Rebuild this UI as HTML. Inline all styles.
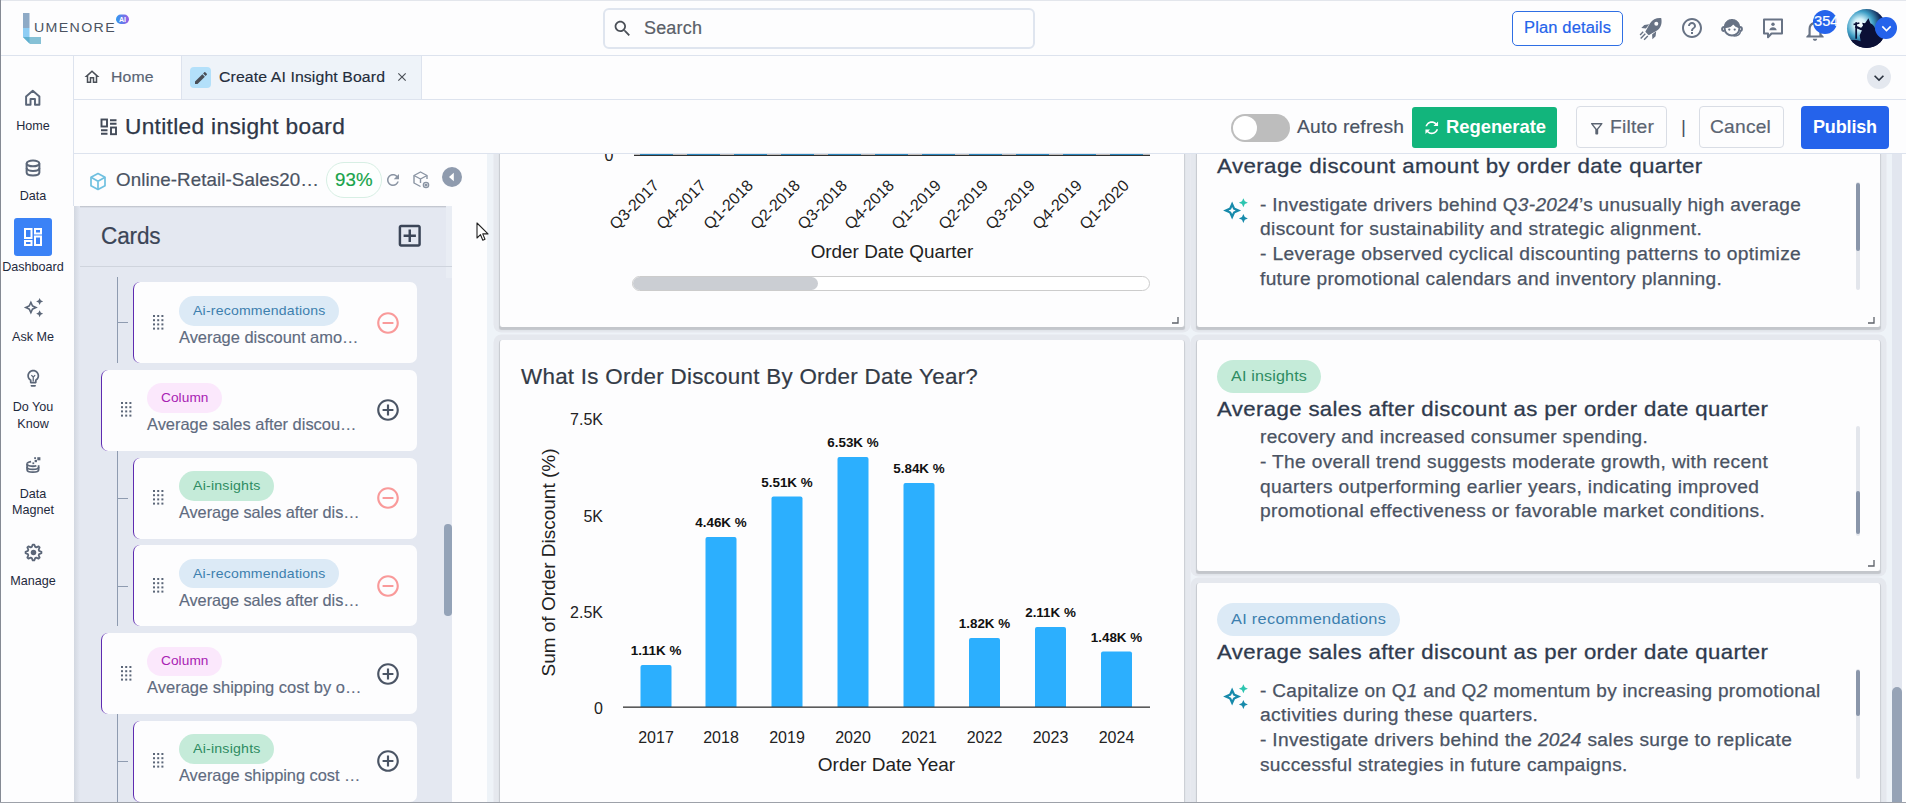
<!DOCTYPE html>
<html lang="en"><head><meta charset="utf-8"><title>Lumenore - Create AI Insight Board</title>
<style>
*{box-sizing:border-box;margin:0;padding:0}
html,body{width:1906px;height:803px;overflow:hidden;background:#fdfdfe}
body{position:relative;font-family:"Liberation Sans",sans-serif;color:#3b4557;-webkit-font-smoothing:antialiased}
.a{position:absolute}
.t{position:absolute;white-space:nowrap;line-height:1}
svg{position:absolute;overflow:visible}
.card{position:absolute;background:#fdfdfe;border-radius:6px 6px 6px 6px}
.lcard{position:absolute;background:#fdfdfe;border-radius:7px;border-left:1.3px solid #5e2bb0}
.pill{position:absolute;border-radius:15px;font-size:13.5px;line-height:1;white-space:nowrap}
.wc{position:absolute;background:#fdfdfe;border-left:1px solid #c9ccd2;border-right:1px solid #cdd0d6;border-radius:3px;box-shadow:0 3px 1px -0.5px #c3c6cb,0 0 0 5.500px #e5e8ee}
</style></head>
<body>
<div class="a" style="left:0;top:0;width:1906px;height:1px;background:#e3e6ec"></div>
<div class="a" style="left:0;top:0;width:1px;height:803px;background:#858a94;z-index:50"></div>
<div class="a" style="left:0;top:802px;width:1906px;height:1px;background:#9da1a9;z-index:50"></div>
<div class="a" style="left:1px;top:55px;width:1905px;height:1px;background:#dde3ee"></div>
<div class="a" style="left:73px;top:56px;width:1px;height:150px;background:#dde3ee"></div>
<div class="a" style="left:74px;top:99px;width:1832px;height:1px;background:#dde3ee"></div>
<div class="a" style="left:74px;top:153px;width:1832px;height:1px;background:#dde3ee"></div>
<svg style="left:22px;top:12px" width="110" height="34" viewBox="0 0 110 34" role="img" aria-label="Lumenore AI">
<defs><linearGradient id="aig" x1="0" y1="0" x2="1" y2="0"><stop offset="0" stop-color="#2f9bf0"/><stop offset="1" stop-color="#9b5de5"/></linearGradient></defs>
<rect x="1" y="1" width="6.5" height="15" fill="#8eaac6"/>
<rect x="1" y="16" width="6.5" height="9" fill="#8ecdf4"/>
<polygon points="1,25 19,25 19,32 8,32" fill="#86c1d6"/><polygon points="1,25 7.500,25 7.500,31.500" fill="#5fb0d0"/>
<rect x="94" y="2.500" width="13" height="9.500" rx="4.750" fill="url(#aig)"/>
<text x="100.500" y="9.800" font-size="7" font-weight="700" fill="#fff" text-anchor="middle" font-family="Liberation Sans, sans-serif">AI</text>
<text x="12" y="20.200" font-size="12.500" fill="#4a5260" font-family="Liberation Sans, sans-serif" letter-spacing="1.200" textLength="82" lengthAdjust="spacingAndGlyphs">UMENORE</text>
</svg>
<div class="a" style="left:603px;top:8px;width:432px;height:41px;border:2px solid #dfe5ef;border-radius:6px;background:#fdfdfe"></div>
<svg style="left:612.00px;top:17.50px" width="21" height="21" viewBox="0 0 24 24" fill="#4a4f57" ><path d="M15.5 14h-.79l-.28-.27C15.41 12.59 16 11.11 16 9.5 16 5.91 13.09 3 9.5 3S3 5.91 3 9.5 5.91 16 9.5 16c1.61 0 3.09-.59 4.23-1.57l.27.28v.79l5 4.99L20.49 19l-4.99-5zm-6 0C7.01 14 5 11.99 5 9.5S7.01 5 9.5 5 14 7.01 14 9.5 11.99 14 9.5 14z"/></svg>
<div class="t" style="left:644px;top:20.05px;font-size:17.5px;color:#5a5f68;font-weight:400;letter-spacing:0.180px;-webkit-text-stroke:0.2px #5a5f68;transform:scaleX(1.0276);transform-origin:0 50%;">Search</div>
<div class="a" style="left:1512px;top:11px;width:111px;height:35px;border:1px solid #2f6fe4;border-radius:5px;background:#fff"></div>
<div class="t" style="left:1524px;top:20.00px;font-size:16px;color:#2563eb;font-weight:400;letter-spacing:0.144px;-webkit-text-stroke:0.2px #2563eb;transform:scaleX(1.0310);transform-origin:0 50%;">Plan details</div>
<svg style="left:1638px;top:16px" width="26" height="26" viewBox="0 0 26 26" fill="#687385">
<path d="M23.300 2.200c-4.600-.5-8.600 1.300-11.400 5.300L7.300 15.800l3.400 3.400 8.300-4.600c4-2.800 5.200-7.300 4.300-12.400zM18.300 9.700a2 2 0 1 1 0-4 2 2 0 0 1 0 4z"/>
<path d="M11.300 8.300l-5 .6-3 3.200 4.600.3zM18.200 15.200l-.6 5-3.200 3-.3-4.600z"/>
<path d="M6.800 17.300l1 1-4.600 4.600-1-1zM9.300 19.500l1 1-3.700 3.700-1-1zM4.700 15.300l1 1-3.100 3.100-1-1z"/></svg>
<svg style="left:1680.00px;top:16.00px" width="24" height="24" viewBox="0 0 24 24" fill="#687385" ><path d="M11 18h2v-2h-2v2zm1-16C6.48 2 2 6.48 2 12s4.48 10 10 10 10-4.48 10-10S17.52 2 12 2zm0 18c-4.41 0-8-3.59-8-8s3.59-8 8-8 8 3.59 8 8-3.59 8-8 8zm0-14c-2.21 0-4 1.79-4 4h2c0-1.1.9-2 2-2s2 .9 2 2c0 2-3 1.75-3 5h2c0-2.25 3-2.5 3-5 0-2.21-1.79-4-4-4z"/></svg>
<svg style="left:1720px;top:16px" width="24" height="24" viewBox="0 0 24 24" fill="none" stroke="#687385" stroke-width="2">
<path d="M4.600 12.600a7.400 7.400 0 0 1 14.800 0c0 4-3.300 6.900-7.400 6.900s-7.400-2.900-7.400-6.900z"/>
<path d="M4.600 11.500c-.5-5 3-8 7.400-8s7.900 3 7.400 8c-2.500-.2-4.700-1.500-6-3.600-1.500 2.300-4.800 3.700-8.800 3.600z" fill="#687385" stroke-width="1"/>
<path d="M4 11c-1.400 0-2 .9-2 2s.6 2 2 2M20 11c1.400 0 2 .9 2 2s-.6 2-2 2" stroke-width="1.800"/>
<circle cx="9.300" cy="13.600" r="1.150" fill="#687385" stroke="none"/><circle cx="14.700" cy="13.600" r="1.150" fill="#687385" stroke="none"/>
<path d="M20.500 15.500c-.5 3-3 4.600-7 4.600" stroke-width="1.500"/></svg>
<svg style="left:1761px;top:16px" width="24" height="24" viewBox="0 0 24 24" fill="none" stroke="#687385" stroke-width="2">
<path d="M3 3.500h18v14H10.500L7 21.300v-3.800H3z" stroke-linejoin="round"/><circle cx="12" cy="8.300" r="1.700" fill="#687385" stroke="none"/><path d="M8.300 14.200c.3-2.100 1.800-3 3.700-3s3.400.9 3.700 3z" fill="#687385" stroke="none"/></svg>
<svg style="left:1802.00px;top:16.80px" width="26" height="26" viewBox="0 0 24 24" fill="#687385" ><path d="M12 22c1.1 0 2-.9 2-2h-4c0 1.1.9 2 2 2zm6-6v-5c0-3.07-1.63-5.64-4.5-6.32V4c0-.83-.67-1.5-1.5-1.5s-1.5.67-1.5 1.5v.68C7.64 5.36 6 7.92 6 11v5l-2 2v1h16v-1l-2-2zm-2 1H8v-6c0-2.48 1.51-4.5 4-4.5s4 2.02 4 4.5v6z"/></svg>
<div class="a" style="left:1812.700px;top:9.500px;width:24.400px;height:24.400px;border-radius:50%;background:#2563eb"></div>
<div class="t" style="left:1813.5px;top:14.05px;font-size:14.5px;color:#fff;font-weight:400;letter-spacing:0.049px;-webkit-text-stroke:0.2px #fff;transform:scaleX(1.0076);transform-origin:0 50%;">354</div>
<svg style="left:1847px;top:9px" width="39" height="39" viewBox="0 0 40 40">
<defs><radialGradient id="av" cx="0.33" cy="0.40" r="0.68"><stop offset="0" stop-color="#ffffff"/><stop offset="0.22" stop-color="#d4f1f9"/><stop offset="0.5" stop-color="#3f9fc6"/><stop offset="0.85" stop-color="#0d1a4a"/><stop offset="1" stop-color="#0a1038"/></radialGradient>
<clipPath id="avc"><circle cx="20" cy="20" r="20"/></clipPath></defs>
<circle cx="20" cy="20" r="20" fill="url(#av)"/>
<g clip-path="url(#avc)" fill="#0b1036">
<path d="M0 33c6-2 10-1.500 14 0l-1-6 2.500-5.500-2-1 3-3.500-1-3 3 .5 3.500-5 2 5c3 1.500 5 4 5.500 8l5 6 6 12H0z"/>
<path d="M8.500 13.500h1.800v17H8.500zM6.500 15l6-1.500.4 1.600-6 1.500z"/>
<path d="M9 17l7 3-1 2-7-3z"/>
</g></svg>
<div class="a" style="left:1875.400px;top:17.400px;width:21.800px;height:21.800px;border-radius:50%;background:#2563eb"></div>
<svg style="left:1876.80px;top:19.10px" width="19" height="19" viewBox="0 0 24 24" fill="#fff" ><path d="M16.59 8.59L12 13.17 7.41 8.59 6 10l6 6 6-6z"/></svg>
<svg style="left:23.300px;top:88px" width="19.500" height="19.500" viewBox="0 0 22 22" fill="none" stroke="#5b6678" stroke-width="2.200" stroke-linejoin="round"><path d="M3.500 9.500L11 3.200l7.500 6.300V19h-5v-6.500h-5V19h-5z"/></svg>
<div class="t" style="left:1px;width:64px;text-align:center;top:120.00px;font-size:12.6px;color:#1f2a3d;">Home</div>
<svg style="left:23px;top:157.500px" width="20" height="20" viewBox="0 0 22 22" fill="none" stroke="#5b6678" stroke-width="2.200"><ellipse cx="11" cy="6" rx="7" ry="3.200"/><path d="M4 6v10c0 1.800 3.100 3.200 7 3.200s7-1.400 7-3.200V6"/><path d="M4 11c0 1.800 3.100 3.200 7 3.200s7-1.400 7-3.200"/></svg>
<div class="t" style="left:1px;width:64px;text-align:center;top:190.00px;font-size:12.6px;color:#1f2a3d;">Data</div>
<div class="a" style="left:14px;top:218px;width:38px;height:38px;border-radius:3px;background:#3b82f6"></div>
<svg style="left:22px;top:226px" width="22" height="22" viewBox="0 0 22 22" fill="none" stroke="#fff" stroke-width="2"><rect x="3" y="3" width="6.500" height="9"/><rect x="13" y="3" width="6" height="4.500"/><rect x="13" y="10.500" width="6" height="8.500"/><rect x="3" y="15" width="6.500" height="4"/></svg>
<div class="t" style="left:1px;width:64px;text-align:center;top:261.00px;font-size:12.6px;color:#1f2a3d;">Dashboard</div>
<svg style="left:22.500px;top:296.500px" width="21" height="21" viewBox="0 0 24 24" fill="#5b6678"><path d="M19 9l1.250-2.750L23 5l-2.750-1.250L19 1l-1.250 2.750L15 5l2.750 1.250z"/><path d="M11.500 9.500L9 4 6.500 9.500 1 12l5.500 2.500L9 20l2.500-5.500L17 12z M9 8.400l1.150 2.450L12.600 12l-2.450 1.150L9 15.600l-1.150-2.450L5.400 12l2.450-1.150z" fill-rule="evenodd"/><path d="M19 15l-1.250 2.750L15 19l2.750 1.250L19 23l1.250-2.750L23 19l-2.750-1.250z"/></svg>
<div class="t" style="left:1px;width:64px;text-align:center;top:331.00px;font-size:12.6px;color:#1f2a3d;">Ask Me</div>
<svg style="left:22.75px;top:367.75px" width="20.5" height="20.5" viewBox="0 0 24 24" fill="#5b6678" ><path d="M9 21c0 .55.45 1 1 1h4c.55 0 1-.45 1-1v-1H9v1zm3-19C8.14 2 5 5.14 5 9c0 2.38 1.19 4.47 3 5.74V17c0 .55.45 1 1 1h6c.55 0 1-.45 1-1v-2.26c1.81-1.27 3-3.36 3-5.74 0-3.86-3.14-7-7-7zm2.85 11.1l-.85.6V16h-4v-2.3l-.85-.6C7.8 12.16 7 10.63 7 9c0-2.76 2.24-5 5-5s5 2.24 5 5c0 1.63-.8 3.16-2.15 4.1z"/></svg>
<svg style="left:22.750px;top:367.750px" width="20.500" height="20.500" viewBox="0 0 24 24" fill="none" stroke="#5b6678" stroke-width="1.500"><path d="M9.800 8.300l2.200 2.400 2.200-2.400M12 10.700v5"/></svg>
<div class="t" style="left:1px;width:64px;text-align:center;top:400.70px;font-size:12.6px;color:#1f2a3d;">Do You</div>
<div class="t" style="left:1px;width:64px;text-align:center;top:417.50px;font-size:12.6px;color:#1f2a3d;">Know</div>
<svg style="left:23.500px;top:455px" width="19.500" height="19.500" viewBox="0 0 22 22" fill="none" stroke="#5b6678" stroke-width="2"><path d="M3.500 10v6.500c0 1.500 2.900 2.700 6.500 2.700s6.500-1.200 6.500-2.700V11.500"/><path d="M3.500 10c0 1.500 2.900 2.700 6.500 2.700 1.500 0 2.800-.2 4-.6M3.500 13.500c0 1.500 2.900 2.700 6.500 2.700s6.500-1.200 6.500-2.700"/><path d="M3.500 10c0-1.200 1.800-2.200 4.500-2.600"/><rect x="15" y="2.500" width="3.500" height="3.500" fill="#5b6678" stroke="none"/><rect x="12" y="5.500" width="2.600" height="2.600" fill="#5b6678" stroke="none"/><rect x="9.500" y="8.300" width="2" height="2" fill="#5b6678" stroke="none"/><rect x="11.500" y="2.500" width="2" height="2" fill="#5b6678" stroke="none"/></svg>
<div class="t" style="left:1px;width:64px;text-align:center;top:488.00px;font-size:12.6px;color:#1f2a3d;">Data</div>
<div class="t" style="left:1px;width:64px;text-align:center;top:504.00px;font-size:12.6px;color:#1f2a3d;">Magnet</div>
<svg style="left:23.500px;top:542.500px" width="19" height="19" viewBox="0 0 22 22" fill="none" stroke="#5b6678" stroke-width="2.100" stroke-linejoin="round"><polygon points="20.16,10.10 20.16,11.90 17.51,12.97 17.00,14.21 18.11,16.84 16.84,18.11 14.21,17.00 12.97,17.51 11.90,20.16 10.10,20.16 9.03,17.51 7.79,17.00 5.16,18.11 3.89,16.84 5.00,14.21 4.49,12.97 1.84,11.90 1.84,10.10 4.49,9.03 5.00,7.79 3.89,5.16 5.16,3.89 7.79,5.00 9.03,4.49 10.10,1.84 11.90,1.84 12.97,4.49 14.21,5.00 16.84,3.89 18.11,5.16 17.00,7.79 17.51,9.03"/><circle cx="11" cy="11" r="3.200" fill="#5b6678" stroke="none"/></svg>
<div class="t" style="left:1px;width:64px;text-align:center;top:575.00px;font-size:12.6px;color:#1f2a3d;">Manage</div>
<svg style="left:83.00px;top:68.00px" width="18" height="18" viewBox="0 0 24 24" fill="#4a4f57" ><path d="M12 5.69l5 4.5V18h-2v-6H9v6H7v-7.81l5-4.5M12 3L2 12h3v8h6v-6h2v6h6v-8h3L12 3z"/></svg>
<div class="t" style="left:111px;top:69.25px;font-size:15.5px;color:#5a6474;font-weight:400;letter-spacing:0.130px;-webkit-text-stroke:0.2px #5a6474;transform:scaleX(1.0167);transform-origin:0 50%;">Home</div>
<div class="a" style="left:181px;top:56px;width:1px;height:43px;background:#dde3ee"></div>
<div class="a" style="left:182px;top:56px;width:239px;height:43px;background:#eef3f9"></div>
<div class="a" style="left:421px;top:56px;width:1px;height:43px;background:#dde3ee"></div>
<div class="a" style="left:190px;top:67px;width:21px;height:21px;border-radius:4px;background:#b3e0fa"></div>
<svg style="left:192.50px;top:69.50px" width="16" height="16" viewBox="0 0 24 24" fill="#4a4f57" ><path d="M3 17.25V21h3.75L17.81 9.94l-3.75-3.75L3 17.25zM20.71 7.04c.39-.39.39-1.02 0-1.41l-2.34-2.34c-.39-.39-1.02-.39-1.41 0l-1.83 1.83 3.75 3.75 1.83-1.83z"/></svg>
<div class="t" style="left:219px;top:69.25px;font-size:15.5px;color:#232c3b;font-weight:400;letter-spacing:0.100px;-webkit-text-stroke:0.15px #232c3b;transform:scaleX(1.0215);transform-origin:0 50%;">Create AI Insight Board</div>
<svg style="left:395.00px;top:70.00px" width="14" height="14" viewBox="0 0 24 24" fill="#4a4f57" ><path d="M19 6.41L17.59 5 12 10.59 6.41 5 5 6.41 10.59 12 5 17.59 6.41 19 12 13.41 17.59 19 19 17.59 13.41 12z"/></svg>
<div class="a" style="left:1867px;top:65px;width:24px;height:24px;border-radius:50%;background:#e4e8ef"></div>
<svg style="left:1869.00px;top:67.50px" width="20" height="20" viewBox="0 0 24 24" fill="#2b3340" ><path d="M16.59 8.59L12 13.17 7.41 8.59 6 10l6 6 6-6z"/></svg>
<svg style="left:99.800px;top:117.700px" width="18" height="18" viewBox="0 0 18 18" fill="none" stroke="#434b59" stroke-width="1.900"><rect x="1.500" y="1.500" width="5.500" height="7"/><path d="M10 2.300h6.500M10 5.800h6.500M1 12.300h6.500M1 15.800h6.500" /><rect x="11" y="9.500" width="5" height="6.700"/></svg>
<div class="t" style="left:125px;top:116.75px;font-size:21.5px;color:#2e3748;font-weight:400;letter-spacing:0.318px;-webkit-text-stroke:0.25px #2e3748;transform:scaleX(1.0535);transform-origin:0 50%;">Untitled insight board</div>
<div class="a" style="left:1231px;top:114px;width:59px;height:28px;border-radius:14px;background:#bdbdbd"></div>
<div class="a" style="left:1233px;top:116px;width:24px;height:24px;border-radius:50%;background:#fff"></div>
<div class="t" style="left:1297px;top:117.75px;font-size:18.5px;color:#4a5363;font-weight:400;letter-spacing:0.209px;-webkit-text-stroke:0.2px #4a5363;transform:scaleX(1.0370);transform-origin:0 50%;">Auto refresh</div>
<div class="a" style="left:1412px;top:107px;width:145px;height:41px;border-radius:3px;background:#12b57c"></div>
<svg style="left:1421.75px;top:118.25px" width="19.5" height="19.5" viewBox="0 0 24 24" fill="#fff" transform="rotate(45)" style="transform-origin:center"><path d="M12 6v3l4-4-4-4v3c-4.42 0-8 3.58-8 8 0 1.57.46 3.03 1.24 4.26L6.7 14.8c-.45-.83-.7-1.79-.7-2.8 0-3.31 2.69-6 6-6zm6.76 1.74L17.3 9.2c.44.84.7 1.79.7 2.8 0 3.31-2.69 6-6 6v-3l-4 4 4 4v-3c4.42 0 8-3.58 8-8 0-1.57-.46-3.03-1.24-4.26z"/></svg>
<div class="t" style="left:1446px;top:117.75px;font-size:18.5px;color:#fff;font-weight:700;letter-spacing:-0.033px;transform:scaleX(0.9954);transform-origin:0 50%;">Regenerate</div>
<div class="a" style="left:1576px;top:106px;width:91px;height:42px;border:1px solid #d9dde5;border-radius:4px;background:#fdfdfe"></div>
<svg style="left:1587.55px;top:119.75px" width="17.5" height="17.5" viewBox="0 0 24 24" fill="#5b6472" ><path d="M7 6h10l-5.01 6.3L7 6zm-2.75-.39C6.27 8.2 10 13 10 13v6c0 .55.45 1 1 1h2c.55 0 1-.45 1-1v-6s3.72-4.8 5.74-7.39c.51-.66.04-1.61-.79-1.61H5.04c-.83 0-1.3.95-.79 1.61z"/></svg>
<div class="t" style="left:1610px;top:117.75px;font-size:18.5px;color:#5b6472;font-weight:400;letter-spacing:0.202px;-webkit-text-stroke:0.2px #5b6472;transform:scaleX(1.0421);transform-origin:0 50%;">Filter</div>
<div class="t" style="left:1681px;top:116.80px;font-size:19px;color:#4a5363;font-weight:400;letter-spacing:0.000px;">|</div>
<div class="a" style="left:1699px;top:106px;width:85px;height:42px;border:1px solid #d9dde5;border-radius:4px;background:#fdfdfe"></div>
<div class="t" style="left:1710px;top:117.75px;font-size:18.5px;color:#5b6472;font-weight:400;letter-spacing:0.240px;-webkit-text-stroke:0.2px #5b6472;transform:scaleX(1.0355);transform-origin:0 50%;">Cancel</div>
<div class="a" style="left:1801px;top:106px;width:88px;height:43px;border-radius:4px;background:#2563eb"></div>
<div class="t" style="left:1813px;top:117.75px;font-size:18.5px;color:#fff;font-weight:700;letter-spacing:-0.177px;transform:scaleX(0.9748);transform-origin:0 50%;">Publish</div>
<svg style="left:89px;top:171.700px" width="18" height="19" viewBox="0 0 18 19" fill="none" stroke="#6fc0e0" stroke-width="1.700" stroke-linejoin="round"><path d="M9 1.500l7 3.800v8.400l-7 3.800-7-3.800V5.300z"/><path d="M2 5.300l7 3.900 7-3.900M9 9.200v8.300"/></svg>
<div class="t" style="left:116px;top:170.75px;font-size:18.5px;color:#4a5363;font-weight:400;letter-spacing:0.083px;-webkit-text-stroke:0.2px #4a5363;transform:scaleX(1.0137);transform-origin:0 50%;">Online-Retail-Sales20…</div>
<div class="a" style="left:326px;top:162px;width:55.500px;height:36px;border:1px solid #d7efe4;border-radius:18px;background:#fdfffe"></div>
<div class="t" style="left:335px;top:170.75px;font-size:18.5px;color:#16a34a;font-weight:400;letter-spacing:0.091px;-webkit-text-stroke:0.2px #16a34a;transform:scaleX(1.0093);transform-origin:0 50%;">93%</div>
<svg style="left:384.00px;top:171.00px" width="18" height="18" viewBox="0 0 24 24" fill="#8a94a3" ><path d="M17.65 6.35C16.2 4.9 14.21 4 12 4c-4.42 0-7.99 3.58-7.99 8s3.57 8 7.99 8c3.73 0 6.84-2.55 7.73-6h-2.08c-.82 2.33-3.04 4-5.65 4-3.31 0-6-2.69-6-6s2.69-6 6-6c1.66 0 3.14.69 4.22 1.78L13 11h7V4l-2.35 2.35z"/></svg>
<svg style="left:411px;top:170px" width="20" height="20" viewBox="0 0 20 20" fill="none" stroke="#8a94a3" stroke-width="1.400" stroke-linejoin="round"><path d="M16 9V5.500L9.500 2 3 5.500v7.500l6.500 3.500"/><path d="M3 5.500l6.500 3.500L16 5.500M9.500 9v4"/><circle cx="15" cy="15" r="2.600"/><circle cx="15" cy="15" r=".8"/></svg>
<div class="a" style="left:442px;top:167px;width:20px;height:20px;border-radius:50%;background:#8f9bae"></div>
<svg style="left:442px;top:167px" width="20" height="20" viewBox="0 0 20 20"><path d="M11.800 5.800v8.400L7 10z" fill="#fff"/></svg>
<div class="a" style="left:74px;top:206px;width:378px;height:597px;background:#e4e8f1"></div>
<div class="a" style="left:74px;top:206px;width:378px;height:2px;background:linear-gradient(#b9bdc6,#e4e8f1)"></div>
<div class="a" style="left:446px;top:206px;width:6px;height:72px;background:#e9edf4"></div>
<div class="a" style="left:74px;top:266px;width:378px;height:1px;background:#cfd4dd"></div>
<div class="a" style="left:74px;top:206px;width:6px;height:597px;background:linear-gradient(90deg,#d2d7e0,#e4e8f1)"></div>
<div class="t" style="left:101px;top:224.50px;font-size:23px;color:#3b4557;font-weight:400;letter-spacing:-0.168px;-webkit-text-stroke:0.2px #3b4557;transform:scaleX(0.9819);transform-origin:0 50%;">Cards</div>
<svg style="left:395.05px;top:221.05px" width="29.5" height="29.5" viewBox="0 0 24 24" fill="#3b4557" ><path d="M19 3H5c-1.11 0-2 .9-2 2v14c0 1.1.89 2 2 2h14c1.1 0 2-.9 2-2V5c0-1.1-.9-2-2-2zm0 16H5V5h14v14zm-8-2h2v-4h4v-2h-4V7h-2v4H7v2h4z"/></svg>
<div class="a" style="left:444px;top:524px;width:7.600px;height:92px;border-radius:3.800px;background:#94a3b8"></div>
<div class="a" style="left:117px;top:277px;width:1px;height:86px;background:#8e9bb0"></div>
<div class="a" style="left:117px;top:451px;width:1px;height:175px;background:#8e9bb0"></div>
<div class="a" style="left:117px;top:714px;width:1px;height:89px;background:#8e9bb0"></div>
<div class="a" style="left:117px;top:322px;width:11px;height:1px;background:#8e9bb0"></div>
<div class="a" style="left:117px;top:498px;width:11px;height:1px;background:#8e9bb0"></div>
<div class="a" style="left:117px;top:586px;width:11px;height:1px;background:#8e9bb0"></div>
<div class="a" style="left:117px;top:761px;width:11px;height:1px;background:#8e9bb0"></div>
<div class="lcard" style="left:133px;top:282.3px;width:284px;height:80.500px"></div>
<svg style="left:152.5px;top:315.0px" width="12" height="16" viewBox="0 0 12 16" fill="#5b6678"><rect x="0.0" y="0.0" width="2" height="2"/><rect x="0.0" y="4.2" width="2" height="2"/><rect x="0.0" y="8.4" width="2" height="2"/><rect x="0.0" y="12.6" width="2" height="2"/><rect x="4.2" y="0.0" width="2" height="2"/><rect x="4.2" y="4.2" width="2" height="2"/><rect x="4.2" y="8.4" width="2" height="2"/><rect x="4.2" y="12.6" width="2" height="2"/><rect x="8.4" y="0.0" width="2" height="2"/><rect x="8.4" y="4.2" width="2" height="2"/><rect x="8.4" y="8.4" width="2" height="2"/><rect x="8.4" y="12.6" width="2" height="2"/></svg>
<div class="pill" style="left:179px;top:296.0px;width:160px;height:29.500px;background:#dceaf6"></div>
<div class="t" style="left:192.5px;top:303.75px;font-size:13.5px;color:#3d7fae;font-weight:400;letter-spacing:0.191px;transform:scaleX(1.0421);transform-origin:0 50%;">Ai-recommendations</div>
<div class="t" style="left:179px;top:328.75px;font-size:16.5px;color:#5f6b80;font-weight:400;letter-spacing:-0.017px;-webkit-text-stroke:0.15px #5f6b80;transform:scaleX(0.9971);transform-origin:0 50%;">Average discount amo…</div>
<svg style="left:375.10px;top:310.00px" width="26" height="26" viewBox="0 0 24 24" fill="#f99a9a" ><path d="M7 11v2h10v-2H7zm5-9C6.48 2 2 6.48 2 12s4.48 10 10 10 10-4.48 10-10S17.52 2 12 2zm0 18c-4.41 0-8-3.59-8-8s3.59-8 8-8 8 3.59 8 8-3.59 8-8 8z"/></svg>
<div class="lcard" style="left:101px;top:370.3px;width:316px;height:80.500px"></div>
<svg style="left:120.5px;top:402.3px" width="12" height="16" viewBox="0 0 12 16" fill="#5b6678"><rect x="0.0" y="0.0" width="2" height="2"/><rect x="0.0" y="4.2" width="2" height="2"/><rect x="0.0" y="8.4" width="2" height="2"/><rect x="0.0" y="12.6" width="2" height="2"/><rect x="4.2" y="0.0" width="2" height="2"/><rect x="4.2" y="4.2" width="2" height="2"/><rect x="4.2" y="8.4" width="2" height="2"/><rect x="4.2" y="12.6" width="2" height="2"/><rect x="8.4" y="0.0" width="2" height="2"/><rect x="8.4" y="4.2" width="2" height="2"/><rect x="8.4" y="8.4" width="2" height="2"/><rect x="8.4" y="12.6" width="2" height="2"/></svg>
<div class="pill" style="left:147px;top:383.3px;width:75px;height:29.500px;background:#fbe8fc"></div>
<div class="t" style="left:160.5px;top:391.05px;font-size:13.5px;color:#a822b3;font-weight:400;letter-spacing:0.070px;transform:scaleX(1.0126);transform-origin:0 50%;">Column</div>
<div class="t" style="left:147px;top:416.05px;font-size:16.5px;color:#5f6b80;font-weight:400;letter-spacing:-0.017px;-webkit-text-stroke:0.15px #5f6b80;transform:scaleX(0.9967);transform-origin:0 50%;">Average sales after discou…</div>
<svg style="left:375.10px;top:397.30px" width="26" height="26" viewBox="0 0 24 24" fill="#4b5565" ><path d="M13 7h-2v4H7v2h4v4h2v-4h4v-2h-4V7zm-1-5C6.48 2 2 6.48 2 12s4.48 10 10 10 10-4.48 10-10S17.52 2 12 2zm0 18c-4.41 0-8-3.59-8-8s3.59-8 8-8 8 3.59 8 8-3.59 8-8 8z"/></svg>
<div class="lcard" style="left:133px;top:458px;width:284px;height:80.500px"></div>
<svg style="left:152.5px;top:490px" width="12" height="16" viewBox="0 0 12 16" fill="#5b6678"><rect x="0.0" y="0.0" width="2" height="2"/><rect x="0.0" y="4.2" width="2" height="2"/><rect x="0.0" y="8.4" width="2" height="2"/><rect x="0.0" y="12.6" width="2" height="2"/><rect x="4.2" y="0.0" width="2" height="2"/><rect x="4.2" y="4.2" width="2" height="2"/><rect x="4.2" y="8.4" width="2" height="2"/><rect x="4.2" y="12.6" width="2" height="2"/><rect x="8.4" y="0.0" width="2" height="2"/><rect x="8.4" y="4.2" width="2" height="2"/><rect x="8.4" y="8.4" width="2" height="2"/><rect x="8.4" y="12.6" width="2" height="2"/></svg>
<div class="pill" style="left:179px;top:471px;width:95px;height:29.500px;background:#c5ebd9"></div>
<div class="t" style="left:192.5px;top:478.75px;font-size:13.5px;color:#2e8b62;font-weight:400;letter-spacing:0.190px;transform:scaleX(1.0503);transform-origin:0 50%;">Ai-insights</div>
<div class="t" style="left:179px;top:503.75px;font-size:16.5px;color:#5f6b80;font-weight:400;letter-spacing:-0.061px;-webkit-text-stroke:0.15px #5f6b80;transform:scaleX(0.9885);transform-origin:0 50%;">Average sales after dis…</div>
<svg style="left:375.10px;top:485.00px" width="26" height="26" viewBox="0 0 24 24" fill="#f99a9a" ><path d="M7 11v2h10v-2H7zm5-9C6.48 2 2 6.48 2 12s4.48 10 10 10 10-4.48 10-10S17.52 2 12 2zm0 18c-4.41 0-8-3.59-8-8s3.59-8 8-8 8 3.59 8 8-3.59 8-8 8z"/></svg>
<div class="lcard" style="left:133px;top:545.2px;width:284px;height:80.500px"></div>
<svg style="left:152.5px;top:577.9000000000001px" width="12" height="16" viewBox="0 0 12 16" fill="#5b6678"><rect x="0.0" y="0.0" width="2" height="2"/><rect x="0.0" y="4.2" width="2" height="2"/><rect x="0.0" y="8.4" width="2" height="2"/><rect x="0.0" y="12.6" width="2" height="2"/><rect x="4.2" y="0.0" width="2" height="2"/><rect x="4.2" y="4.2" width="2" height="2"/><rect x="4.2" y="8.4" width="2" height="2"/><rect x="4.2" y="12.6" width="2" height="2"/><rect x="8.4" y="0.0" width="2" height="2"/><rect x="8.4" y="4.2" width="2" height="2"/><rect x="8.4" y="8.4" width="2" height="2"/><rect x="8.4" y="12.6" width="2" height="2"/></svg>
<div class="pill" style="left:179px;top:558.9000000000001px;width:160px;height:29.500px;background:#dceaf6"></div>
<div class="t" style="left:192.5px;top:566.65px;font-size:13.5px;color:#3d7fae;font-weight:400;letter-spacing:0.191px;transform:scaleX(1.0421);transform-origin:0 50%;">Ai-recommendations</div>
<div class="t" style="left:179px;top:591.65px;font-size:16.5px;color:#5f6b80;font-weight:400;letter-spacing:-0.061px;-webkit-text-stroke:0.15px #5f6b80;transform:scaleX(0.9885);transform-origin:0 50%;">Average sales after dis…</div>
<svg style="left:375.10px;top:572.90px" width="26" height="26" viewBox="0 0 24 24" fill="#f99a9a" ><path d="M7 11v2h10v-2H7zm5-9C6.48 2 2 6.48 2 12s4.48 10 10 10 10-4.48 10-10S17.52 2 12 2zm0 18c-4.41 0-8-3.59-8-8s3.59-8 8-8 8 3.59 8 8-3.59 8-8 8z"/></svg>
<div class="lcard" style="left:101px;top:633px;width:316px;height:80.500px"></div>
<svg style="left:120.5px;top:665.7px" width="12" height="16" viewBox="0 0 12 16" fill="#5b6678"><rect x="0.0" y="0.0" width="2" height="2"/><rect x="0.0" y="4.2" width="2" height="2"/><rect x="0.0" y="8.4" width="2" height="2"/><rect x="0.0" y="12.6" width="2" height="2"/><rect x="4.2" y="0.0" width="2" height="2"/><rect x="4.2" y="4.2" width="2" height="2"/><rect x="4.2" y="8.4" width="2" height="2"/><rect x="4.2" y="12.6" width="2" height="2"/><rect x="8.4" y="0.0" width="2" height="2"/><rect x="8.4" y="4.2" width="2" height="2"/><rect x="8.4" y="8.4" width="2" height="2"/><rect x="8.4" y="12.6" width="2" height="2"/></svg>
<div class="pill" style="left:147px;top:646.7px;width:75px;height:29.500px;background:#fbe8fc"></div>
<div class="t" style="left:160.5px;top:654.45px;font-size:13.5px;color:#a822b3;font-weight:400;letter-spacing:0.070px;transform:scaleX(1.0126);transform-origin:0 50%;">Column</div>
<div class="t" style="left:147px;top:679.45px;font-size:16.5px;color:#5f6b80;font-weight:400;letter-spacing:0.003px;-webkit-text-stroke:0.15px #5f6b80;">Average shipping cost by o…</div>
<svg style="left:375.10px;top:660.70px" width="26" height="26" viewBox="0 0 24 24" fill="#4b5565" ><path d="M13 7h-2v4H7v2h4v4h2v-4h4v-2h-4V7zm-1-5C6.48 2 2 6.48 2 12s4.48 10 10 10 10-4.48 10-10S17.52 2 12 2zm0 18c-4.41 0-8-3.59-8-8s3.59-8 8-8 8 3.59 8 8-3.59 8-8 8z"/></svg>
<div class="lcard" style="left:133px;top:721px;width:284px;height:80.500px"></div>
<svg style="left:152.5px;top:753px" width="12" height="16" viewBox="0 0 12 16" fill="#5b6678"><rect x="0.0" y="0.0" width="2" height="2"/><rect x="0.0" y="4.2" width="2" height="2"/><rect x="0.0" y="8.4" width="2" height="2"/><rect x="0.0" y="12.6" width="2" height="2"/><rect x="4.2" y="0.0" width="2" height="2"/><rect x="4.2" y="4.2" width="2" height="2"/><rect x="4.2" y="8.4" width="2" height="2"/><rect x="4.2" y="12.6" width="2" height="2"/><rect x="8.4" y="0.0" width="2" height="2"/><rect x="8.4" y="4.2" width="2" height="2"/><rect x="8.4" y="8.4" width="2" height="2"/><rect x="8.4" y="12.6" width="2" height="2"/></svg>
<div class="pill" style="left:179px;top:734px;width:95px;height:29.500px;background:#c5ebd9"></div>
<div class="t" style="left:192.5px;top:741.75px;font-size:13.5px;color:#2e8b62;font-weight:400;letter-spacing:0.190px;transform:scaleX(1.0503);transform-origin:0 50%;">Ai-insights</div>
<div class="t" style="left:179px;top:766.75px;font-size:16.5px;color:#5f6b80;font-weight:400;letter-spacing:-0.029px;-webkit-text-stroke:0.15px #5f6b80;transform:scaleX(0.9946);transform-origin:0 50%;">Average shipping cost …</div>
<svg style="left:375.10px;top:748.00px" width="26" height="26" viewBox="0 0 24 24" fill="#4b5565" ><path d="M13 7h-2v4H7v2h4v4h2v-4h4v-2h-4V7zm-1-5C6.48 2 2 6.48 2 12s4.48 10 10 10 10-4.48 10-10S17.52 2 12 2zm0 18c-4.41 0-8-3.59-8-8s3.59-8 8-8 8 3.59 8 8-3.59 8-8 8z"/></svg>
<div class="a" style="left:487px;top:154px;width:1405px;height:649px;background:#eef3f8"></div>
<div class="a" style="left:1892px;top:154px;width:10px;height:649px;background:#e2e6ef"></div>
<div class="a" style="left:1902px;top:154px;width:4px;height:649px;background:#fff"></div>
<div class="a" style="left:1892px;top:687px;width:10px;height:125px;border-radius:5px;background:#96a3b6"></div>
<div class="a" style="left:487px;top:154px;width:1405px;height:649px;overflow:hidden"><div class="a" style="left:-487px;top:-154px;width:1906px;height:803px">
<div class="wc" style="left:499px;top:140px;width:686px;height:187px;border-radius:0 0 3px 3px;"></div>
<svg style="left:1172.3px;top:316.6px" width="7" height="7" viewBox="0 0 7 7" fill="none" stroke="#5d6269" stroke-width="1.300"><path d="M6 0v6H0"/></svg>
<div class="wc" style="left:499px;top:340px;width:686px;height:480px;border-radius:3px 3px 0 0;"></div>
<div class="wc" style="left:1196px;top:140px;width:685px;height:187px;border-radius:0 0 3px 3px;"></div>
<svg style="left:1868.3px;top:316.6px" width="7" height="7" viewBox="0 0 7 7" fill="none" stroke="#5d6269" stroke-width="1.300"><path d="M6 0v6H0"/></svg>
<div class="wc" style="left:1196px;top:340px;width:685px;height:230.7px;"></div>
<svg style="left:1868.3px;top:560.3000000000001px" width="7" height="7" viewBox="0 0 7 7" fill="none" stroke="#5d6269" stroke-width="1.300"><path d="M6 0v6H0"/></svg>
<div class="wc" style="left:1196px;top:583px;width:685px;height:240px;border-radius:3px 3px 0 0;"></div>
</div></div>
<svg style="left:500px;top:154px;overflow:hidden" width="685" height="174" viewBox="500 154 685 174" font-family="Liberation Sans, sans-serif"><rect x="640" y="154" width="33" height="1" fill="#2caffe"/><rect x="687" y="154" width="33" height="1" fill="#2caffe"/><rect x="734" y="154" width="33" height="1" fill="#2caffe"/><rect x="781" y="154" width="33" height="1" fill="#2caffe"/><rect x="828" y="154" width="33" height="1" fill="#2caffe"/><rect x="875" y="154" width="33" height="1" fill="#2caffe"/><rect x="922" y="154" width="33" height="1" fill="#2caffe"/><rect x="969" y="154" width="33" height="1" fill="#2caffe"/><rect x="1016" y="154" width="33" height="1" fill="#2caffe"/><rect x="1063" y="154" width="33" height="1" fill="#2caffe"/><rect x="1110" y="154" width="33" height="1" fill="#2caffe"/><rect x="634" y="154.700" width="516" height="1.300" fill="#333"/><text x="609" y="161" font-size="16" fill="#222" text-anchor="middle">0</text><text x="660" y="186.500" font-size="16" fill="#222" text-anchor="end" transform="rotate(-45 660 186.500)">Q3-2017</text><text x="707" y="186.500" font-size="16" fill="#222" text-anchor="end" transform="rotate(-45 707 186.500)">Q4-2017</text><text x="754" y="186.500" font-size="16" fill="#222" text-anchor="end" transform="rotate(-45 754 186.500)">Q1-2018</text><text x="801" y="186.500" font-size="16" fill="#222" text-anchor="end" transform="rotate(-45 801 186.500)">Q2-2018</text><text x="848" y="186.500" font-size="16" fill="#222" text-anchor="end" transform="rotate(-45 848 186.500)">Q3-2018</text><text x="895" y="186.500" font-size="16" fill="#222" text-anchor="end" transform="rotate(-45 895 186.500)">Q4-2018</text><text x="942" y="186.500" font-size="16" fill="#222" text-anchor="end" transform="rotate(-45 942 186.500)">Q1-2019</text><text x="989" y="186.500" font-size="16" fill="#222" text-anchor="end" transform="rotate(-45 989 186.500)">Q2-2019</text><text x="1036" y="186.500" font-size="16" fill="#222" text-anchor="end" transform="rotate(-45 1036 186.500)">Q3-2019</text><text x="1083" y="186.500" font-size="16" fill="#222" text-anchor="end" transform="rotate(-45 1083 186.500)">Q4-2019</text><text x="1130" y="186.500" font-size="16" fill="#222" text-anchor="end" transform="rotate(-45 1130 186.500)">Q1-2020</text><text x="892" y="257.500" font-size="18.900" fill="#222" text-anchor="middle">Order Date Quarter</text><rect x="632.500" y="276.500" width="517" height="14" rx="7" fill="#fff" stroke="#ccc"/><rect x="633" y="277" width="185" height="13" rx="6.500" fill="#cbced3"/></svg>
<div class="t" style="left:521px;top:367.05px;font-size:21.5px;color:#333a46;font-weight:400;letter-spacing:0.270px;-webkit-text-stroke:0.2px #333a46;transform:scaleX(1.0409);transform-origin:0 50%;">What Is Order Discount By Order Date Year?</div>
<svg style="left:500px;top:400px" width="685" height="403" viewBox="500 400 685 403" font-family="Liberation Sans, sans-serif"><text x="603" y="424.5" font-size="16" fill="#222" text-anchor="end">7.5K</text><text x="603" y="521.5" font-size="16" fill="#222" text-anchor="end">5K</text><text x="603" y="617.5" font-size="16" fill="#222" text-anchor="end">2.5K</text><text x="603" y="713.5" font-size="16" fill="#222" text-anchor="end">0</text><path d="M640.5 707V667a2 2 0 0 1 2-2h27a2 2 0 0 1 2 2V707z" fill="#2caffe"/><text x="656" y="655.3" font-size="13.400" font-weight="700" fill="#111" text-anchor="middle">1.11K %</text><text x="656" y="742.500" font-size="16" fill="#222" text-anchor="middle">2017</text><path d="M705.5 707V539a2 2 0 0 1 2-2h27a2 2 0 0 1 2 2V707z" fill="#2caffe"/><text x="721" y="527.3" font-size="13.400" font-weight="700" fill="#111" text-anchor="middle">4.46K %</text><text x="721" y="742.500" font-size="16" fill="#222" text-anchor="middle">2018</text><path d="M771.5 707V498.5a2 2 0 0 1 2-2h27a2 2 0 0 1 2 2V707z" fill="#2caffe"/><text x="787" y="486.8" font-size="13.400" font-weight="700" fill="#111" text-anchor="middle">5.51K %</text><text x="787" y="742.500" font-size="16" fill="#222" text-anchor="middle">2019</text><path d="M837.5 707V459a2 2 0 0 1 2-2h27a2 2 0 0 1 2 2V707z" fill="#2caffe"/><text x="853" y="447.3" font-size="13.400" font-weight="700" fill="#111" text-anchor="middle">6.53K %</text><text x="853" y="742.500" font-size="16" fill="#222" text-anchor="middle">2020</text><path d="M903.5 707V485a2 2 0 0 1 2-2h27a2 2 0 0 1 2 2V707z" fill="#2caffe"/><text x="919" y="473.3" font-size="13.400" font-weight="700" fill="#111" text-anchor="middle">5.84K %</text><text x="919" y="742.500" font-size="16" fill="#222" text-anchor="middle">2021</text><path d="M969.0 707V640a2 2 0 0 1 2-2h27a2 2 0 0 1 2 2V707z" fill="#2caffe"/><text x="984.5" y="628.3" font-size="13.400" font-weight="700" fill="#111" text-anchor="middle">1.82K %</text><text x="984.5" y="742.500" font-size="16" fill="#222" text-anchor="middle">2022</text><path d="M1035.0 707V629a2 2 0 0 1 2-2h27a2 2 0 0 1 2 2V707z" fill="#2caffe"/><text x="1050.5" y="617.3" font-size="13.400" font-weight="700" fill="#111" text-anchor="middle">2.11K %</text><text x="1050.5" y="742.500" font-size="16" fill="#222" text-anchor="middle">2023</text><path d="M1101.0 707V653.5a2 2 0 0 1 2-2h27a2 2 0 0 1 2 2V707z" fill="#2caffe"/><text x="1116.5" y="641.8" font-size="13.400" font-weight="700" fill="#111" text-anchor="middle">1.48K %</text><text x="1116.5" y="742.500" font-size="16" fill="#222" text-anchor="middle">2024</text><rect x="623" y="706.500" width="527" height="1.300" fill="#333"/><text x="886.500" y="770.500" font-size="19" fill="#222" text-anchor="middle">Order Date Year</text><text x="554.500" y="562.500" font-size="19" fill="#222" text-anchor="middle" transform="rotate(-90 554.500 562.500)">Sum of Order Discount (%)</text></svg>
<div class="t" style="left:1217px;top:154.90px;font-size:21px;color:#2f3a4d;font-weight:400;letter-spacing:0.387px;-webkit-text-stroke:0.3px #2f3a4d;transform:scaleX(1.0625);transform-origin:0 50%;">Average discount amount by order date quarter</div>
<svg style="left:1222px;top:197px" width="27" height="27" viewBox="0 0 24 24"><path d="M19 9l1.250-2.750L23 5l-2.750-1.250L19 1l-1.250 2.750L15 5l2.750 1.250z" fill="#2cc5b0"/><path d="M11.500 9.500L9 4 6.500 9.500 1 12l5.500 2.500L9 20l2.500-5.500L17 12z M9 8.800l1 2.200 2.200 1-2.200 1-1 2.200-1-2.200-2.200-1 2.200-1z" fill="#178aab" fill-rule="evenodd"/><path d="M19 15l-1.250 2.750L15 19l2.750 1.250L19 23l1.250-2.750L23 19l-2.750-1.250z" fill="#178aab"/></svg>
<div class="t" style="left:1260px;top:195.90px;font-size:18px;color:#4a5363;font-weight:400;letter-spacing:0.294px;-webkit-text-stroke:0.25px #4a5363;transform:scaleX(1.0571);transform-origin:0 50%;">- Investigate drivers behind Q<i>3-2024</i>’s unusually high average</div>
<div class="t" style="left:1260px;top:220.40px;font-size:18px;color:#4a5363;font-weight:400;letter-spacing:0.326px;-webkit-text-stroke:0.25px #4a5363;transform:scaleX(1.0676);transform-origin:0 50%;">discount for sustainability and strategic alignment.</div>
<div class="t" style="left:1260px;top:244.90px;font-size:18px;color:#4a5363;font-weight:400;letter-spacing:0.339px;-webkit-text-stroke:0.25px #4a5363;transform:scaleX(1.0675);transform-origin:0 50%;">- Leverage observed cyclical discounting patterns to optimize</div>
<div class="t" style="left:1260px;top:269.90px;font-size:18px;color:#4a5363;font-weight:400;letter-spacing:0.313px;-webkit-text-stroke:0.25px #4a5363;transform:scaleX(1.0611);transform-origin:0 50%;">future promotional calendars and inventory planning.</div>
<div class="a" style="left:1856px;top:182px;width:4px;height:108px;border-radius:2px;background:#e3e6ec"></div>
<div class="a" style="left:1856px;top:182.5px;width:4px;height:68.5px;border-radius:2px;background:#8a96aa"></div>
<div class="pill" style="left:1217px;top:360px;width:104px;height:33px;border-radius:16.500px;background:#c5ebd9"></div>
<div class="t" style="left:1230.5px;top:368.25px;font-size:15.5px;color:#2e8b62;font-weight:400;letter-spacing:0.165px;transform:scaleX(1.0377);transform-origin:0 50%;">AI insights</div>
<div class="t" style="left:1217px;top:397.90px;font-size:21px;color:#2f3a4d;font-weight:400;letter-spacing:0.341px;-webkit-text-stroke:0.3px #2f3a4d;transform:scaleX(1.0576);transform-origin:0 50%;">Average sales after discount as per order date quarter</div>
<div class="t" style="left:1260px;top:428.40px;font-size:18px;color:#4a5363;font-weight:400;letter-spacing:0.316px;-webkit-text-stroke:0.25px #4a5363;transform:scaleX(1.0572);transform-origin:0 50%;">recovery and increased consumer spending.</div>
<div class="t" style="left:1260px;top:453.00px;font-size:18px;color:#4a5363;font-weight:400;letter-spacing:0.320px;-webkit-text-stroke:0.25px #4a5363;transform:scaleX(1.0627);transform-origin:0 50%;">- The overall trend suggests moderate growth, with recent</div>
<div class="t" style="left:1260px;top:477.60px;font-size:18px;color:#4a5363;font-weight:400;letter-spacing:0.318px;-webkit-text-stroke:0.25px #4a5363;transform:scaleX(1.0635);transform-origin:0 50%;">quarters outperforming earlier years, indicating improved</div>
<div class="t" style="left:1260px;top:502.20px;font-size:18px;color:#4a5363;font-weight:400;letter-spacing:0.333px;-webkit-text-stroke:0.25px #4a5363;transform:scaleX(1.0661);transform-origin:0 50%;">promotional effectiveness or favorable market conditions.</div>
<div class="a" style="left:1856px;top:426px;width:4px;height:110px;border-radius:2px;background:#e3e6ec"></div>
<div class="a" style="left:1856px;top:491px;width:4px;height:43px;border-radius:2px;background:#8a96aa"></div>
<div class="pill" style="left:1217px;top:603px;width:183px;height:33px;border-radius:16.500px;background:#dceaf6"></div>
<div class="t" style="left:1230.5px;top:611.25px;font-size:15.5px;color:#3d7fae;font-weight:400;letter-spacing:0.279px;transform:scaleX(1.0542);transform-origin:0 50%;">AI recommendations</div>
<div class="t" style="left:1217px;top:640.90px;font-size:21px;color:#2f3a4d;font-weight:400;letter-spacing:0.341px;-webkit-text-stroke:0.3px #2f3a4d;transform:scaleX(1.0576);transform-origin:0 50%;">Average sales after discount as per order date quarter</div>
<svg style="left:1222px;top:683px" width="27" height="27" viewBox="0 0 24 24"><path d="M19 9l1.250-2.750L23 5l-2.750-1.250L19 1l-1.250 2.750L15 5l2.750 1.250z" fill="#2cc5b0"/><path d="M11.500 9.500L9 4 6.500 9.500 1 12l5.500 2.500L9 20l2.500-5.500L17 12z M9 8.800l1 2.200 2.200 1-2.200 1-1 2.200-1-2.200-2.200-1 2.200-1z" fill="#178aab" fill-rule="evenodd"/><path d="M19 15l-1.250 2.750L15 19l2.750 1.250L19 23l1.250-2.750L23 19l-2.750-1.250z" fill="#178aab"/></svg>
<div class="t" style="left:1260px;top:682.40px;font-size:18px;color:#4a5363;font-weight:400;letter-spacing:0.301px;-webkit-text-stroke:0.25px #4a5363;transform:scaleX(1.0552);transform-origin:0 50%;">- Capitalize on Q<i>1</i> and Q<i>2</i> momentum by increasing promotional</div>
<div class="t" style="left:1260px;top:706.40px;font-size:18px;color:#4a5363;font-weight:400;letter-spacing:0.332px;-webkit-text-stroke:0.25px #4a5363;transform:scaleX(1.0695);transform-origin:0 50%;">activities during these quarters.</div>
<div class="t" style="left:1260px;top:731.40px;font-size:18px;color:#4a5363;font-weight:400;letter-spacing:0.310px;-webkit-text-stroke:0.25px #4a5363;transform:scaleX(1.0632);transform-origin:0 50%;">- Investigate drivers behind the <i>2024</i> sales surge to replicate</div>
<div class="t" style="left:1260px;top:756.40px;font-size:18px;color:#4a5363;font-weight:400;letter-spacing:0.303px;-webkit-text-stroke:0.25px #4a5363;transform:scaleX(1.0599);transform-origin:0 50%;">successful strategies in future campaigns.</div>
<div class="a" style="left:1856px;top:669px;width:4px;height:110px;border-radius:2px;background:#e3e6ec"></div>
<div class="a" style="left:1856px;top:670px;width:4px;height:46px;border-radius:2px;background:#8a96aa"></div>
<svg style="left:476px;top:222px" width="14" height="20" viewBox="0 0 14 20"><path d="M1 1v15l3.500-3.300 2.300 5.500 2.200-.9-2.300-5.400H12z" fill="#fff" stroke="#222" stroke-width="1.100" stroke-linejoin="round"/></svg>
</body></html>
